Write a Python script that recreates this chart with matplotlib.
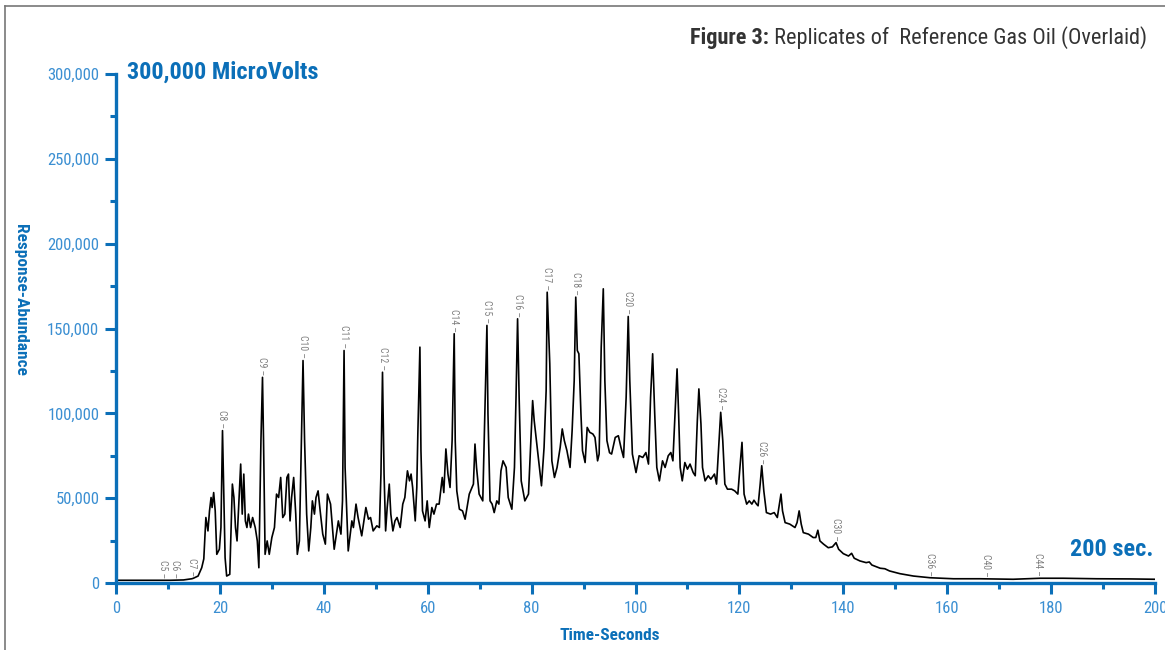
import matplotlib
matplotlib.use("Agg")
import matplotlib.pyplot as plt
import numpy as np
from matplotlib import font_manager as fm
from matplotlib.lines import Line2D
from matplotlib.ticker import MultipleLocator, FuncFormatter

# chromatogram trace (time in s, response in microvolts)
time_s = [
    0.0, 6.5, 10.4, 13.0, 14.6, 14.9, 15.8, 16.5, 16.9, 17.3, 17.7, 18.0, 18.3, 18.5, 18.8,
    19.1, 19.4, 19.9, 20.2, 20.5, 20.7, 21.0, 21.3, 21.9, 22.4, 22.7, 23.0, 23.3, 23.7, 24.0,
    24.3, 24.6, 24.9, 25.2, 25.5, 25.9, 26.3, 26.8, 27.2, 27.5, 27.9, 28.2, 28.4, 28.7, 29.1,
    29.5, 30.0, 30.5, 30.9, 31.3, 31.7, 32.1, 32.5, 32.9, 33.2, 33.5, 33.8, 34.2, 34.6, 34.9,
    35.3, 35.7, 36.0, 36.3, 36.7, 37.1, 37.5, 37.8, 38.2, 38.5, 38.9, 39.3, 39.8, 40.3, 40.7,
    41.3, 42.0, 42.8, 43.3, 43.6, 43.9, 44.1, 44.7, 45.4, 45.7, 46.2, 46.6, 47.3, 48.1, 48.6,
    49.0, 49.5, 50.2, 50.7, 51.0, 51.3, 51.6, 51.9, 52.2, 52.6, 52.9, 53.3, 53.7, 54.1, 54.7,
    55.2, 55.6, 56.1, 56.5, 56.8, 57.1, 57.6, 57.9, 58.1, 58.5, 58.7, 59.0, 59.5, 59.9, 60.3,
    60.8, 61.2, 61.7, 62.2, 62.8, 63.1, 63.5, 63.9, 64.3, 64.7, 65.1, 65.3, 65.6, 66.1, 66.7,
    67.2, 68.0, 68.8, 69.1, 69.4, 69.9, 70.6, 71.0, 71.4, 71.6, 72.0, 72.4, 72.8, 73.3, 73.7,
    74.1, 74.5, 75.1, 75.5, 76.2, 76.7, 77.0, 77.3, 77.6, 78.0, 78.7, 79.4, 79.8, 80.2, 80.5,
    81.0, 81.5, 81.9, 82.4, 82.8, 83.0, 83.5, 83.9, 84.4, 84.9, 85.5, 85.9, 86.3, 86.8, 87.4,
    87.8, 88.2, 88.5, 88.8, 89.1, 89.5, 89.8, 90.3, 90.7, 91.2, 91.8, 92.2, 92.7, 93.0, 93.4,
    93.8, 94.1, 94.5, 95.0, 95.4, 96.1, 96.7, 97.2, 97.7, 98.2, 98.6, 98.9, 99.4, 100.1, 100.7,
    101.4, 102.0, 102.5, 102.9, 103.3, 103.7, 104.1, 104.6, 105.2, 105.7, 106.3, 106.8, 107.2, 107.6, 108.0,
    108.3, 108.6, 109.0, 109.5, 110.0, 110.5, 111.1, 111.5, 111.9, 112.2, 112.6, 112.9, 113.4, 114.0, 114.5,
    115.2, 115.6, 116.0, 116.4, 116.8, 117.2, 117.7, 118.5, 119.1, 119.7, 120.1, 120.5, 120.9, 121.4, 121.9,
    122.4, 122.8, 123.3, 123.6, 124.0, 124.3, 124.7, 125.2, 126.0, 126.7, 127.3, 127.7, 128.0, 128.3, 128.8,
    129.7, 130.7, 131.1, 131.5, 131.9, 132.3, 133.3, 134.2, 134.7, 135.1, 135.5, 136.2, 137.1, 137.9, 138.6,
    139.1, 140.0, 141.0, 141.6, 142.1, 143.2, 144.4, 145.0, 145.5, 147.1, 148.0, 148.9, 150.9, 153.5, 156.7,
    161.2, 166.3, 172.7, 177.9, 182.3, 188.8, 195.2, 200.0,
]
response = [
    1600, 1600, 1600, 1800, 2500, 2800, 4100, 9000, 14200, 38600, 30700, 42500, 50400, 44500, 53300,
    42500, 16900, 19900, 32700, 89800, 60200, 14900, 4100, 5100, 58300, 50400, 32700, 24800, 50400, 70100,
    40600, 64200, 36600, 32700, 40600, 32700, 38600, 32700, 24800, 9000, 83900, 121200, 83900, 16900, 24800,
    16900, 26800, 32700, 52400, 50400, 62200, 38600, 40600, 62200, 64200, 36600, 50400, 62200, 40600, 16900,
    24800, 83900, 131100, 83900, 40600, 18900, 32700, 48400, 40600, 50400, 54300, 42500, 28800, 22900, 52400,
    46500, 19900, 36600, 28800, 48400, 137000, 68100, 18900, 36600, 32700, 46500, 38600, 27800, 44500, 37600,
    38600, 30700, 33700, 32700, 64200, 124200, 64200, 30700, 44500, 58300, 40600, 30700, 36600, 38600, 32700,
    46500, 50400, 66100, 60200, 64200, 56300, 36600, 56300, 87800, 139000, 78000, 42500, 36600, 48400, 32700,
    44500, 40600, 46500, 46500, 62200, 53300, 79000, 64200, 56300, 83900, 146900, 83900, 54300, 43500, 42500,
    37600, 52400, 58300, 81900, 68100, 52400, 48400, 99600, 151800, 99600, 48400, 46500, 41500, 48400, 46500,
    66100, 72000, 68100, 50400, 43500, 68100, 109400, 155700, 109400, 60200, 48400, 52400, 79900, 107500, 95700,
    81900, 68100, 57300, 79900, 113400, 171400, 129200, 72000, 62200, 68100, 79900, 90800, 83900, 78000, 68100,
    89800, 119300, 168500, 137000, 135100, 99600, 78000, 71000, 91700, 88800, 87800, 85800, 72000, 76000, 139000,
    173400, 119300, 83900, 76800, 76000, 85800, 86800, 79900, 74000, 109400, 157100, 119300, 76000, 65100, 75000,
    74000, 76900, 70100, 109400, 135100, 99600, 68100, 60200, 72000, 68100, 75000, 76900, 72000, 99600, 126200,
    99600, 68100, 60200, 71000, 67100, 70100, 65100, 63200, 95700, 114400, 93700, 68100, 60200, 63200, 61200,
    64200, 58300, 79900, 100600, 83900, 58300, 55300, 55300, 54300, 52400, 68100, 82900, 52400, 46500, 48400,
    46500, 48800, 46500, 45500, 58300, 69100, 54300, 41500, 40600, 41500, 38600, 46500, 52400, 42500, 35600,
    34700, 32700, 35600, 42500, 34700, 29700, 28800, 26800, 26800, 31100, 24800, 22900, 20800, 21300, 23800,
    19900, 17300, 15900, 17500, 14600, 13000, 12000, 12400, 10600, 8700, 8400, 7100, 5500, 4100, 3100,
    2500, 2500, 2200, 2800, 2800, 2500, 2400, 2200,
]

# carbon-number peak labels
peak_names = ["C5", "C6", "C7", "C8", "C9", "C10", "C11", "C12", "C14", "C15",
              "C16", "C17", "C18", "C20", "C24", "C26", "C30", "C36", "C40", "C44"]
peak_times = [9.0, 11.3, 14.6, 20.5, 28.2, 36.0, 43.9, 51.3, 65.1, 71.4,
              77.3, 83.0, 88.5, 98.6, 116.4, 124.3, 138.6, 156.7, 167.4, 177.4]

x_max = 200
y_max = 300000

BLUE = "#0b6fb8"
TICK_BLUE = "#3b8fd2"

# pick a condensed face if one is around
installed = {f.name for f in fm.fontManager.ttflist}
narrow = [n for n in ["Roboto Condensed", "Archivo Narrow", "Encode Sans Condensed"] if n in installed]
FONT = narrow[:1] + ["DejaVu Sans"]
plt.rcParams["font.family"] = FONT

fig = plt.figure(figsize=(11.65, 6.5), dpi=100)
ax = fig.add_axes([116 / 1165, 1 - 583 / 650, (1155 - 116) / 1165, (583 - 74) / 650])

ax.plot(time_s, response, color="black", lw=1.2, solid_joinstyle="round")

label_y = np.interp(peak_times, time_s, response)
for name, t, v in zip(peak_names, peak_times, label_y):
    ax.annotate(name + " \u2013", xy=(t, v), xytext=(0, 1.5), textcoords="offset points",
                rotation=270, ha="center", va="bottom", fontsize=7, color="#808080")

ax.set_xlim(0, x_max)
ax.set_ylim(0, y_max)

for s in ["top", "right"]:
    ax.spines[s].set_visible(False)
for s in ["left", "bottom"]:
    ax.spines[s].set_color(BLUE)
    ax.spines[s].set_linewidth(2.4)

ax.xaxis.set_major_locator(MultipleLocator(20))
ax.xaxis.set_minor_locator(MultipleLocator(10))
ax.yaxis.set_major_locator(MultipleLocator(50000))
ax.yaxis.set_minor_locator(MultipleLocator(25000))
ax.yaxis.set_major_formatter(FuncFormatter(lambda v, p: f"{int(v):,}"))

ax.tick_params(which="major", length=8, width=2.2, color=BLUE, labelcolor=TICK_BLUE,
               labelsize=12, pad=4)
ax.tick_params(which="minor", length=4.5, width=2.2, color=BLUE)
ax.tick_params(axis="x", which="major", pad=5)

fig.text(610 / 1165, 1 - 636 / 650, "Time-Seconds", color=BLUE, fontsize=12.5,
         fontweight="bold", ha="center", va="center")
fig.text(20 / 1165, 1 - 300 / 650, "Response-Abundance", rotation=270, color=BLUE,
         fontsize=12.5, fontweight="bold", ha="center", va="center")

fig.text(127 / 1165, 1 - 72 / 650, "300,000 MicroVolts", color=BLUE, fontsize=17.5,
         fontweight="bold", ha="left", va="center")
fig.text(1153 / 1165, 1 - 550 / 650, "200 sec.", color=BLUE, fontsize=17.5,
         fontweight="bold", ha="right", va="center")

reg = fig.text(1147 / 1165, 1 - 38 / 650, " Replicates of  Reference Gas Oil (Overlaid)",
               color="#333333", fontsize=16, ha="right", va="center")
ax.annotate("Figure 3:", xy=(0, 0.5), xycoords=reg, ha="right", va="center",
            color="#333333", fontsize=16, fontweight="bold", annotation_clip=False)

# thin frame on the left and top edges
fig.add_artist(Line2D([5 / 1165, 5 / 1165], [0, 1 - 6 / 650], color="#777777", lw=1.2))
fig.add_artist(Line2D([5 / 1165, 1], [1 - 6 / 650, 1 - 6 / 650], color="#777777", lw=1.2))

fig.savefig("out.png", dpi=100)
